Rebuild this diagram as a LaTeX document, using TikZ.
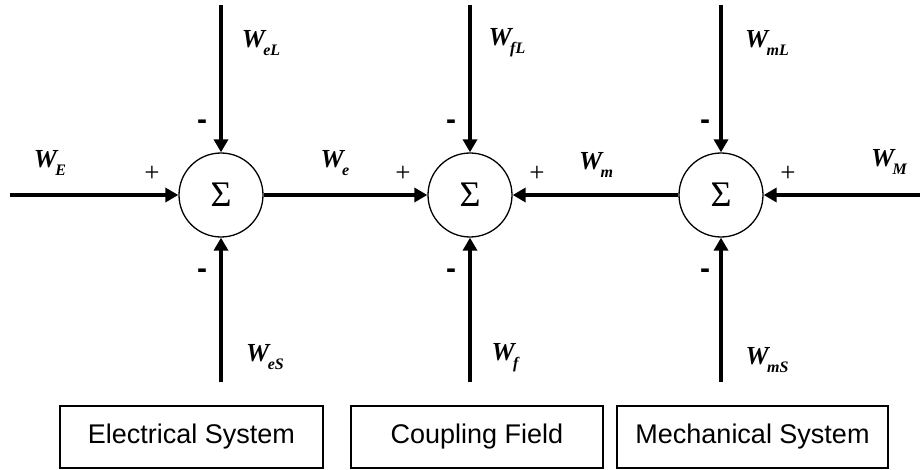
\documentclass[tikz,border=0pt]{standalone}
\usepackage{fontspec}
\setmainfont{Liberation Serif}
\newfontfamily\arialf{Liberation Sans}
\usetikzlibrary{arrows.meta}
\newcommand{\WW}[1]{\textbf{\textit{W\kern-0.06em\raisebox{-0.32em}{\fontsize{16}{16}\selectfont #1}}}}
\begin{document}
\begin{tikzpicture}[x=1pt,y=-1pt,
  sumnode/.style={circle,draw,line width=1.3pt,minimum size=84pt,inner sep=0pt,font=\fontsize{36}{36}\selectfont},
  flow/.style={line width=3.9pt,-{Triangle[length=13pt,width=14pt]}},
  wlab/.style={font=\fontsize{26}{26}\selectfont,inner sep=0pt},
  plus/.style={font=\fontsize{27}{27}\selectfont,inner sep=0pt},
  minus/.style={font=\arialf\bfseries\fontsize{30}{30}\selectfont,inner sep=0pt},
  sysbox/.style={draw,line width=1.2pt,font=\arialf\fontsize{27}{27}\selectfont,minimum height=62pt,inner sep=0pt}]
\useasboundingbox (0,0) rectangle (920,470);

\node[sumnode] (s1) at (221,195) {Σ};
\node[sumnode] (s2) at (470,195) {Σ};
\node[sumnode] (s3) at (721,195) {Σ};

\coordinate (inE) at (10,195);
\coordinate (inM) at (920,195);
\coordinate (t1) at (221,5);
\coordinate (t2) at (470,5);
\coordinate (t3) at (721,5);
\coordinate (b1) at (221,382);
\coordinate (b2) at (470,382);
\coordinate (b3) at (721,382);

\draw[flow] (inE) -- (s1.west);
\draw[flow] (s1.east) -- (s2.west);
\draw[flow] (s3.west) -- (s2.east);
\draw[flow] (inM) -- (s3.east);
\draw[flow] (t1) -- (s1.north);
\draw[flow] (t2) -- (s2.north);
\draw[flow] (t3) -- (s3.north);
\draw[flow] (b1) -- (s1.south);
\draw[flow] (b2) -- (s2.south);
\draw[flow] (b3) -- (s3.south);

\node[wlab] (lWE) at (50,163) {\WW{E}};
\node[wlab] (lWeL) at (261,43) {\WW{eL}};
\node[wlab] (lWe) at (335,163) {\WW{e}};
\node[wlab] (lWfL) at (507,43) {\WW{fL}};
\node[wlab] (lWm) at (596,165) {\WW{m}};
\node[wlab] (lWmL) at (767,43) {\WW{mL}};
\node[wlab] (lWM) at (889,162) {\WW{M}};
\node[wlab] (lWeS) at (265,357) {\WW{eS}};
\node[wlab] (lWf) at (505,358) {\WW{f}};
\node[wlab] (lWmS) at (767,360) {\WW{mS}};

\node[plus] (p1) at (152,174) {+};
\node[plus] (p2) at (403,174) {+};
\node[plus] (p3) at (537,174) {+};
\node[plus] (p4) at (788,174) {+};

\node[minus] (m1t) at (202,125) {-};
\node[minus] (m2t) at (451,125) {-};
\node[minus] (m3t) at (705,125) {-};
\node[minus] (m1b) at (202,274) {-};
\node[minus] (m2b) at (451,274) {-};
\node[minus] (m3b) at (705,274) {-};

\node[sysbox,minimum width=263pt] (es) at (191.5,437) {Electrical System};
\node[sysbox,minimum width=252pt] (cf) at (477,437) {Coupling Field};
\node[sysbox,minimum width=271pt] (ms) at (752.5,437) {Mechanical System};
\end{tikzpicture}
\end{document}
